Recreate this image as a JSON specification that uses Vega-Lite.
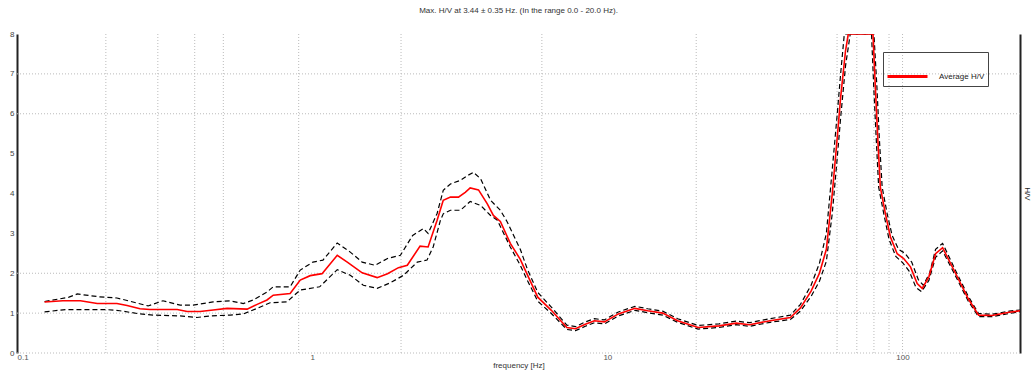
{
  "$schema": "https://vega.github.io/schema/vega-lite/v6.json",
  "width": 1003,
  "height": 319,
  "autosize": {"type": "none"},
  "padding": {"left": 17, "top": 34, "right": 13, "bottom": 18},
  "background": "white",
  "config": {
    "font": "Liberation Sans",
    "view": {"stroke": null}
  },
  "title": {
    "text": "Max. H/V at 3.44 ± 0.35 Hz. (In the range 0.0 - 20.0 Hz).",
    "fontSize": 8,
    "fontWeight": "normal",
    "color": "#333",
    "font": "Liberation Sans",
    "anchor": "middle",
    "offset": 15
  },
  "datasets": {
    "vgrid": [{"f": 0.2}, {"f": 0.3}, {"f": 0.4}, {"f": 0.5}, {"f": 0.9}, {"f": 2}, {"f": 6}, {"f": 20}, {"f": 60}, {"f": 70}, {"f": 80}, {"f": 90}, {"f": 100}],
    "hgrid": [{"v": 0}, {"v": 1}, {"v": 2}, {"v": 6}, {"v": 7}],
    "hv": [
      {"s": "Average H/V", "f": 0.124, "v": 1.28},
      {"s": "Average H/V", "f": 0.143, "v": 1.31},
      {"s": "Average H/V", "f": 0.164, "v": 1.31},
      {"s": "Average H/V", "f": 0.187, "v": 1.24},
      {"s": "Average H/V", "f": 0.218, "v": 1.24},
      {"s": "Average H/V", "f": 0.236, "v": 1.19},
      {"s": "Average H/V", "f": 0.261, "v": 1.11},
      {"s": "Average H/V", "f": 0.282, "v": 1.09},
      {"s": "Average H/V", "f": 0.349, "v": 1.09},
      {"s": "Average H/V", "f": 0.377, "v": 1.04},
      {"s": "Average H/V", "f": 0.417, "v": 1.04},
      {"s": "Average H/V", "f": 0.462, "v": 1.08},
      {"s": "Average H/V", "f": 0.515, "v": 1.12},
      {"s": "Average H/V", "f": 0.602, "v": 1.1},
      {"s": "Average H/V", "f": 0.651, "v": 1.22},
      {"s": "Average H/V", "f": 0.703, "v": 1.33},
      {"s": "Average H/V", "f": 0.738, "v": 1.45},
      {"s": "Average H/V", "f": 0.842, "v": 1.49},
      {"s": "Average H/V", "f": 0.911, "v": 1.83},
      {"s": "Average H/V", "f": 0.985, "v": 1.94},
      {"s": "Average H/V", "f": 1.08, "v": 1.99},
      {"s": "Average H/V", "f": 1.216, "v": 2.45},
      {"s": "Average H/V", "f": 1.315, "v": 2.28},
      {"s": "Average H/V", "f": 1.477, "v": 2.01},
      {"s": "Average H/V", "f": 1.66, "v": 1.89},
      {"s": "Average H/V", "f": 1.8, "v": 1.99},
      {"s": "Average H/V", "f": 1.96, "v": 2.14},
      {"s": "Average H/V", "f": 2.1, "v": 2.2},
      {"s": "Average H/V", "f": 2.32, "v": 2.68},
      {"s": "Average H/V", "f": 2.47, "v": 2.66},
      {"s": "Average H/V", "f": 2.65, "v": 3.33},
      {"s": "Average H/V", "f": 2.78, "v": 3.83},
      {"s": "Average H/V", "f": 2.94, "v": 3.91},
      {"s": "Average H/V", "f": 3.13, "v": 3.91},
      {"s": "Average H/V", "f": 3.3, "v": 4.03},
      {"s": "Average H/V", "f": 3.43, "v": 4.14},
      {"s": "Average H/V", "f": 3.66, "v": 4.09},
      {"s": "Average H/V", "f": 3.92, "v": 3.74},
      {"s": "Average H/V", "f": 4.11, "v": 3.45},
      {"s": "Average H/V", "f": 4.34, "v": 3.3},
      {"s": "Average H/V", "f": 4.69, "v": 2.75},
      {"s": "Average H/V", "f": 5.07, "v": 2.35},
      {"s": "Average H/V", "f": 5.36, "v": 1.96},
      {"s": "Average H/V", "f": 5.81, "v": 1.4},
      {"s": "Average H/V", "f": 6.46, "v": 1.07},
      {"s": "Average H/V", "f": 7.29, "v": 0.64},
      {"s": "Average H/V", "f": 7.8, "v": 0.61},
      {"s": "Average H/V", "f": 8.42, "v": 0.72},
      {"s": "Average H/V", "f": 9.04, "v": 0.81},
      {"s": "Average H/V", "f": 9.77, "v": 0.78},
      {"s": "Average H/V", "f": 10.9, "v": 0.98},
      {"s": "Average H/V", "f": 12.4, "v": 1.12},
      {"s": "Average H/V", "f": 13.7, "v": 1.06},
      {"s": "Average H/V", "f": 15.4, "v": 1.0},
      {"s": "Average H/V", "f": 17.3, "v": 0.81},
      {"s": "Average H/V", "f": 20.3, "v": 0.64},
      {"s": "Average H/V", "f": 23.9, "v": 0.68},
      {"s": "Average H/V", "f": 27.3, "v": 0.75},
      {"s": "Average H/V", "f": 30.3, "v": 0.71},
      {"s": "Average H/V", "f": 35.6, "v": 0.81},
      {"s": "Average H/V", "f": 41.7, "v": 0.89},
      {"s": "Average H/V", "f": 45.1, "v": 1.13},
      {"s": "Average H/V", "f": 49.0, "v": 1.55},
      {"s": "Average H/V", "f": 52.3, "v": 2.0},
      {"s": "Average H/V", "f": 55.2, "v": 2.6},
      {"s": "Average H/V", "f": 57.8, "v": 3.99},
      {"s": "Average H/V", "f": 60.1, "v": 5.41},
      {"s": "Average H/V", "f": 61.7, "v": 6.41},
      {"s": "Average H/V", "f": 64.1, "v": 7.58},
      {"s": "Average H/V", "f": 65.5, "v": 8.0},
      {"s": "Average H/V", "f": 79.4, "v": 8.0},
      {"s": "Average H/V", "f": 80.9, "v": 6.66},
      {"s": "Average H/V", "f": 82.4, "v": 5.41},
      {"s": "Average H/V", "f": 84.1, "v": 4.16},
      {"s": "Average H/V", "f": 87.5, "v": 3.49},
      {"s": "Average H/V", "f": 91.0, "v": 2.91},
      {"s": "Average H/V", "f": 95.9, "v": 2.49},
      {"s": "Average H/V", "f": 100.9, "v": 2.37},
      {"s": "Average H/V", "f": 106.4, "v": 2.16},
      {"s": "Average H/V", "f": 112.1, "v": 1.74},
      {"s": "Average H/V", "f": 116.6, "v": 1.62},
      {"s": "Average H/V", "f": 122.8, "v": 1.91},
      {"s": "Average H/V", "f": 129.4, "v": 2.49},
      {"s": "Average H/V", "f": 136.7, "v": 2.64},
      {"s": "Average H/V", "f": 150, "v": 2.05},
      {"s": "Average H/V", "f": 167, "v": 1.36},
      {"s": "Average H/V", "f": 181, "v": 0.95},
      {"s": "Average H/V", "f": 201, "v": 0.94},
      {"s": "Average H/V", "f": 230, "v": 1.02},
      {"s": "Average H/V", "f": 251, "v": 1.06},

      {"s": "upper", "f": 0.124, "v": 1.29},
      {"s": "upper", "f": 0.150, "v": 1.4},
      {"s": "upper", "f": 0.160, "v": 1.48},
      {"s": "upper", "f": 0.19, "v": 1.41},
      {"s": "upper", "f": 0.218, "v": 1.38},
      {"s": "upper", "f": 0.247, "v": 1.28},
      {"s": "upper", "f": 0.278, "v": 1.18},
      {"s": "upper", "f": 0.312, "v": 1.31},
      {"s": "upper", "f": 0.357, "v": 1.2},
      {"s": "upper", "f": 0.395, "v": 1.2},
      {"s": "upper", "f": 0.462, "v": 1.28},
      {"s": "upper", "f": 0.527, "v": 1.31},
      {"s": "upper", "f": 0.584, "v": 1.24},
      {"s": "upper", "f": 0.632, "v": 1.33},
      {"s": "upper", "f": 0.703, "v": 1.53},
      {"s": "upper", "f": 0.738, "v": 1.66},
      {"s": "upper", "f": 0.842, "v": 1.66},
      {"s": "upper", "f": 0.911, "v": 2.08},
      {"s": "upper", "f": 1.006, "v": 2.28},
      {"s": "upper", "f": 1.088, "v": 2.33},
      {"s": "upper", "f": 1.216, "v": 2.76},
      {"s": "upper", "f": 1.346, "v": 2.53},
      {"s": "upper", "f": 1.477, "v": 2.28},
      {"s": "upper", "f": 1.632, "v": 2.2},
      {"s": "upper", "f": 1.8, "v": 2.37},
      {"s": "upper", "f": 1.99, "v": 2.45},
      {"s": "upper", "f": 2.19, "v": 2.95},
      {"s": "upper", "f": 2.38, "v": 3.12},
      {"s": "upper", "f": 2.47, "v": 3.0},
      {"s": "upper", "f": 2.65, "v": 3.5},
      {"s": "upper", "f": 2.78, "v": 4.08},
      {"s": "upper", "f": 2.94, "v": 4.24},
      {"s": "upper", "f": 3.18, "v": 4.33},
      {"s": "upper", "f": 3.36, "v": 4.45},
      {"s": "upper", "f": 3.52, "v": 4.53},
      {"s": "upper", "f": 3.72, "v": 4.37},
      {"s": "upper", "f": 4.02, "v": 3.83},
      {"s": "upper", "f": 4.34, "v": 3.58},
      {"s": "upper", "f": 4.57, "v": 3.3},
      {"s": "upper", "f": 5.07, "v": 2.6},
      {"s": "upper", "f": 5.36, "v": 2.1},
      {"s": "upper", "f": 5.81, "v": 1.52},
      {"s": "upper", "f": 6.46, "v": 1.15},
      {"s": "upper", "f": 7.29, "v": 0.7},
      {"s": "upper", "f": 7.8, "v": 0.66},
      {"s": "upper", "f": 8.42, "v": 0.78},
      {"s": "upper", "f": 9.04, "v": 0.86},
      {"s": "upper", "f": 9.77, "v": 0.83},
      {"s": "upper", "f": 10.9, "v": 1.03},
      {"s": "upper", "f": 12.4, "v": 1.17},
      {"s": "upper", "f": 13.7, "v": 1.11},
      {"s": "upper", "f": 15.4, "v": 1.05},
      {"s": "upper", "f": 17.3, "v": 0.86},
      {"s": "upper", "f": 20.3, "v": 0.69},
      {"s": "upper", "f": 23.9, "v": 0.73},
      {"s": "upper", "f": 27.3, "v": 0.8},
      {"s": "upper", "f": 30.3, "v": 0.76},
      {"s": "upper", "f": 35.6, "v": 0.86},
      {"s": "upper", "f": 41.7, "v": 0.95},
      {"s": "upper", "f": 45.1, "v": 1.22},
      {"s": "upper", "f": 49.0, "v": 1.7},
      {"s": "upper", "f": 52.3, "v": 2.25},
      {"s": "upper", "f": 55.2, "v": 3.0},
      {"s": "upper", "f": 57.8, "v": 4.6},
      {"s": "upper", "f": 60.1, "v": 6.0},
      {"s": "upper", "f": 61.7, "v": 7.0},
      {"s": "upper", "f": 63.5, "v": 8.0},
      {"s": "upper", "f": 80.0, "v": 8.0},
      {"s": "upper", "f": 81.9, "v": 6.66},
      {"s": "upper", "f": 83.4, "v": 5.41},
      {"s": "upper", "f": 85.3, "v": 4.16},
      {"s": "upper", "f": 88.7, "v": 3.49},
      {"s": "upper", "f": 92.2, "v": 2.95},
      {"s": "upper", "f": 96.9, "v": 2.6},
      {"s": "upper", "f": 101.9, "v": 2.5},
      {"s": "upper", "f": 107.4, "v": 2.28},
      {"s": "upper", "f": 113.1, "v": 1.84},
      {"s": "upper", "f": 117.6, "v": 1.7},
      {"s": "upper", "f": 123.5, "v": 2.0},
      {"s": "upper", "f": 129.4, "v": 2.6},
      {"s": "upper", "f": 136.7, "v": 2.75},
      {"s": "upper", "f": 150, "v": 2.12},
      {"s": "upper", "f": 167, "v": 1.42},
      {"s": "upper", "f": 181, "v": 0.99},
      {"s": "upper", "f": 201, "v": 0.97},
      {"s": "upper", "f": 230, "v": 1.05},
      {"s": "upper", "f": 251, "v": 1.08},

      {"s": "lower", "f": 0.124, "v": 1.03},
      {"s": "lower", "f": 0.146, "v": 1.09},
      {"s": "lower", "f": 0.17, "v": 1.09},
      {"s": "lower", "f": 0.2, "v": 1.09},
      {"s": "lower", "f": 0.223, "v": 1.06},
      {"s": "lower", "f": 0.261, "v": 0.98},
      {"s": "lower", "f": 0.289, "v": 0.95},
      {"s": "lower", "f": 0.357, "v": 0.93},
      {"s": "lower", "f": 0.407, "v": 0.89},
      {"s": "lower", "f": 0.451, "v": 0.93},
      {"s": "lower", "f": 0.527, "v": 0.95},
      {"s": "lower", "f": 0.584, "v": 0.98},
      {"s": "lower", "f": 0.651, "v": 1.12},
      {"s": "lower", "f": 0.72, "v": 1.26},
      {"s": "lower", "f": 0.82, "v": 1.28},
      {"s": "lower", "f": 0.911, "v": 1.58},
      {"s": "lower", "f": 1.06, "v": 1.66},
      {"s": "lower", "f": 1.216, "v": 2.09},
      {"s": "lower", "f": 1.346, "v": 1.95},
      {"s": "lower", "f": 1.49, "v": 1.7},
      {"s": "lower", "f": 1.66, "v": 1.62},
      {"s": "lower", "f": 1.84, "v": 1.76},
      {"s": "lower", "f": 2.04, "v": 1.95},
      {"s": "lower", "f": 2.27, "v": 2.28},
      {"s": "lower", "f": 2.45, "v": 2.33},
      {"s": "lower", "f": 2.57, "v": 2.66},
      {"s": "lower", "f": 2.72, "v": 3.33},
      {"s": "lower", "f": 2.78, "v": 3.49},
      {"s": "lower", "f": 2.94, "v": 3.58},
      {"s": "lower", "f": 3.18, "v": 3.58},
      {"s": "lower", "f": 3.43, "v": 3.8},
      {"s": "lower", "f": 3.72, "v": 3.7},
      {"s": "lower", "f": 4.02, "v": 3.45},
      {"s": "lower", "f": 4.24, "v": 3.33},
      {"s": "lower", "f": 4.69, "v": 2.66},
      {"s": "lower", "f": 5.07, "v": 2.2},
      {"s": "lower", "f": 5.36, "v": 1.82},
      {"s": "lower", "f": 5.81, "v": 1.3},
      {"s": "lower", "f": 6.46, "v": 0.99},
      {"s": "lower", "f": 7.29, "v": 0.59},
      {"s": "lower", "f": 7.8, "v": 0.56},
      {"s": "lower", "f": 8.42, "v": 0.67},
      {"s": "lower", "f": 9.04, "v": 0.76},
      {"s": "lower", "f": 9.77, "v": 0.73},
      {"s": "lower", "f": 10.9, "v": 0.93},
      {"s": "lower", "f": 12.4, "v": 1.07},
      {"s": "lower", "f": 13.7, "v": 1.01},
      {"s": "lower", "f": 15.4, "v": 0.95},
      {"s": "lower", "f": 17.3, "v": 0.77},
      {"s": "lower", "f": 20.3, "v": 0.6},
      {"s": "lower", "f": 23.9, "v": 0.64},
      {"s": "lower", "f": 27.3, "v": 0.71},
      {"s": "lower", "f": 30.3, "v": 0.67},
      {"s": "lower", "f": 35.6, "v": 0.77},
      {"s": "lower", "f": 41.7, "v": 0.84},
      {"s": "lower", "f": 45.1, "v": 1.05},
      {"s": "lower", "f": 49.0, "v": 1.42},
      {"s": "lower", "f": 52.3, "v": 1.8},
      {"s": "lower", "f": 55.2, "v": 2.3},
      {"s": "lower", "f": 57.8, "v": 3.5},
      {"s": "lower", "f": 60.1, "v": 4.9},
      {"s": "lower", "f": 61.7, "v": 5.9},
      {"s": "lower", "f": 64.1, "v": 7.2},
      {"s": "lower", "f": 66.5, "v": 8.0},
      {"s": "lower", "f": 78.5, "v": 8.0},
      {"s": "lower", "f": 79.9, "v": 6.66},
      {"s": "lower", "f": 81.4, "v": 5.41},
      {"s": "lower", "f": 83.0, "v": 4.16},
      {"s": "lower", "f": 86.4, "v": 3.49},
      {"s": "lower", "f": 90.0, "v": 2.85},
      {"s": "lower", "f": 94.9, "v": 2.42},
      {"s": "lower", "f": 99.9, "v": 2.27},
      {"s": "lower", "f": 105.4, "v": 2.05},
      {"s": "lower", "f": 111.1, "v": 1.64},
      {"s": "lower", "f": 116.0, "v": 1.54},
      {"s": "lower", "f": 122.8, "v": 1.82},
      {"s": "lower", "f": 129.4, "v": 2.4},
      {"s": "lower", "f": 136.7, "v": 2.56},
      {"s": "lower", "f": 150, "v": 1.98},
      {"s": "lower", "f": 167, "v": 1.3},
      {"s": "lower", "f": 181, "v": 0.91},
      {"s": "lower", "f": 201, "v": 0.91},
      {"s": "lower", "f": 230, "v": 0.99},
      {"s": "lower", "f": 251, "v": 1.04}
    ]
  },
  "resolve": {"axis": {"y": "independent"}},
  "layer": [
    {
      "data": {"name": "vgrid"},
      "mark": {"type": "rule", "color": "#bbbbbb", "strokeDash": [1, 2], "strokeWidth": 1},
      "encoding": {
        "x": {
          "field": "f", "type": "quantitative",
          "scale": {"type": "log", "domain": [0.1, 250], "nice": false},
          "axis": {
            "values": [0.1, 1, 10, 100],
            "format": "~g",
            "grid": false, "domain": false, "ticks": false,
            "labelFontSize": 8, "labelColor": "#555", "labelPadding": 0,
            "title": "frequency [Hz]", "titleFontSize": 8, "titleFontWeight": "normal", "titleColor": "#333", "titlePadding": 0
          }
        }
      }
    },
    {
      "data": {"name": "hgrid"},
      "mark": {"type": "rule", "color": "#bbbbbb", "strokeDash": [1, 2], "strokeWidth": 1},
      "encoding": {
        "y": {
          "field": "v", "type": "quantitative",
          "scale": {"domain": [0, 8], "nice": false},
          "axis": {
            "orient": "left", "values": [0, 1, 2, 3, 4, 5, 6, 7, 8], "grid": false,
            "domainColor": "#222", "domainWidth": 2, "ticks": false,
            "labelFontSize": 8, "labelColor": "#444", "labelPadding": 3,
            "title": null
          }
        }
      }
    },
    {
      "data": {"name": "hv"},
      "transform": [{"filter": "datum.s !== 'Average H/V'"}],
      "mark": {"type": "line", "color": "black", "strokeDash": [5, 3], "strokeWidth": 1.2, "clip": true},
      "encoding": {
        "x": {"field": "f", "type": "quantitative", "scale": {"type": "log", "domain": [0.1, 250], "nice": false}},
        "y": {
          "field": "v", "type": "quantitative",
          "scale": {"domain": [0, 8], "nice": false},
          "axis": {
            "orient": "right", "grid": false, "labels": false, "ticks": false,
            "domainColor": "#222", "domainWidth": 2,
            "title": "H/V", "titleFontSize": 8, "titleFontWeight": "normal", "titleColor": "#222", "titlePadding": 2
          }
        },
        "detail": {"field": "s"},
        "order": {"field": "f", "type": "quantitative"}
      }
    },
    {
      "data": {"name": "hv"},
      "transform": [{"filter": "datum.s === 'Average H/V'"}],
      "mark": {"type": "line", "strokeWidth": 1.6, "clip": true},
      "encoding": {
        "x": {"field": "f", "type": "quantitative", "scale": {"type": "log", "domain": [0.1, 250], "nice": false}},
        "y": {"field": "v", "type": "quantitative", "scale": {"domain": [0, 8], "nice": false}, "axis": null},
        "color": {
          "field": "s", "type": "nominal",
          "scale": {"domain": ["Average H/V"], "range": ["#ff0000"]},
          "legend": {
            "title": null, "orient": "none", "legendX": 866, "legendY": 18,
            "symbolType": "stroke", "symbolSize": 1600, "symbolStrokeWidth": 3,
            "labelFontSize": 8, "labelColor": "#222",
            "strokeColor": "#444", "padding": 3, "labelOffset": 10
          }
        },
        "order": {"field": "f", "type": "quantitative"}
      }
    }
  ]
}
